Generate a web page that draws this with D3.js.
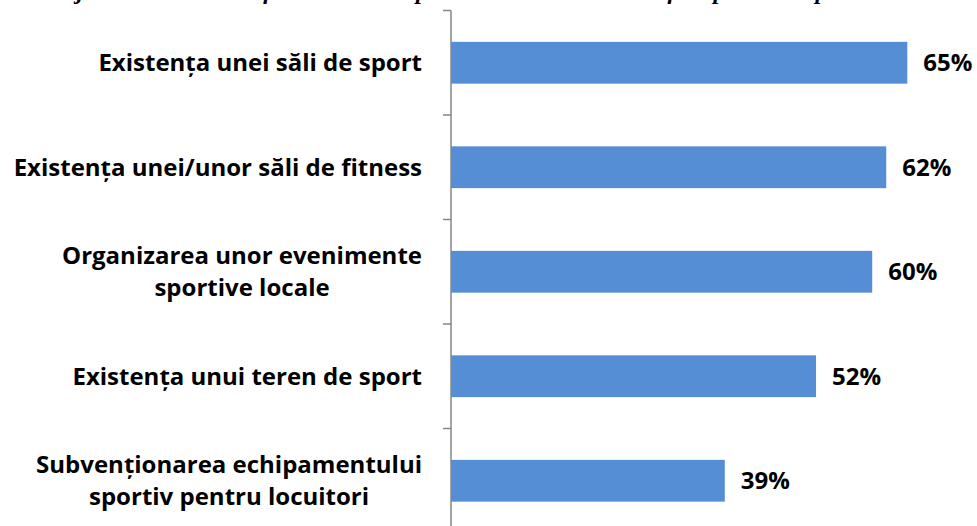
<!DOCTYPE html>
<html>
<head>
<meta charset="utf-8">
<script src="https://cdn.jsdelivr.net/npm/d3@7"></script>
<style>
  body { margin: 0; background: #fff; }
  svg { display: block; }
</style>
</head>
<body>
<div id="chart"></div>
<script>
// categories (top to bottom), each label split in lines
const categories = [
  ["Existența unei săli de sport"],
  ["Existența unei/unor săli de fitness"],
  ["Organizarea unor evenimente", "sportive locale"],
  ["Existența unui teren de sport"],
  ["Subvenționarea echipamentului", "sportiv pentru locuitori"]
];
const values = [65, 62, 60, 52, 39];
const valueLabels = ["65%", "62%", "60%", "52%", "39%"];
const titleText = "Ce anume v-ar ajuta ca oamenii să facă mai mult sport în comună? Care ar fi impactul asupra stării de sănătate, în special pentru tineri?";

const width = 977, height = 526;
const axisX = 451;
const barColor = "#558ed5";
const font = "'Open Sans', Lato, sans-serif";
const fontSize = 24;

const svg = d3.select("#chart").append("svg")
  .attr("width", width)
  .attr("height", height);

// title, mostly above the visible area
svg.append("text")
  .attr("x", -88)
  .attr("y", -1)
  .attr("font-family", "'Liberation Serif', serif")
  .attr("font-weight", "bold")
  .attr("font-style", "italic")
  .attr("font-size", 24)
  .text(titleText);

const x = d3.scaleLinear()
  .domain([0, 70])
  .range([axisX, axisX + 70 * 7.02]);

const y = d3.scaleBand()
  .domain(d3.range(categories.length))
  .range([10.5, 533])
  .paddingInner(0.6)
  .paddingOuter(0.3);

// bars
svg.append("g")
  .selectAll("rect")
  .data(values)
  .join("rect")
    .attr("x", x(0))
    .attr("y", (d, i) => y(i))
    .attr("width", d => x(d) - x(0))
    .attr("height", y.bandwidth())
    .attr("fill", barColor);

// axis line and ticks between categories
const axis = svg.append("g").attr("stroke", "#868686").attr("stroke-width", 1.5);
axis.append("line")
  .attr("x1", axisX).attr("x2", axisX)
  .attr("y1", y.range()[0]).attr("y2", y.range()[1]);
const tickYs = d3.range(categories.length + 1).map(i => y.range()[0] + i * y.step());
axis.selectAll(".tick")
  .data(tickYs)
  .join("line")
    .attr("x1", axisX - 8).attr("x2", axisX)
    .attr("y1", d => d).attr("y2", d => d);

// value labels
svg.append("g")
  .selectAll("text")
  .data(values)
  .join("text")
    .attr("x", d => x(d) + 16)
    .attr("y", (d, i) => y(i) + y.bandwidth() / 2)
    .attr("dy", "0.35em")
    .attr("font-family", font)
    .attr("font-weight", "bold")
    .attr("font-size", fontSize)
    .attr("fill", "#000")
    .text((d, i) => valueLabels[i]);

// category labels, centred block with right edge near the axis
const lineH = 32;
const labelRight = 422;
const cat = svg.append("g")
  .attr("font-family", font)
  .attr("font-weight", "bold")
  .attr("font-size", fontSize)
  .attr("fill", "#000");

categories.forEach((lines, i) => {
  const cy = y(i) + y.bandwidth() / 2;
  const t = cat.append("text").attr("text-anchor", "middle");
  lines.forEach((ln, j) => {
    t.append("tspan")
      .attr("y", cy + (j - (lines.length - 1) / 2) * lineH)
      .attr("dy", "0.35em")
      .text(ln);
  });
  let maxW = 0;
  t.selectAll("tspan").each(function () {
    maxW = Math.max(maxW, this.getComputedTextLength());
  });
  t.selectAll("tspan").attr("x", labelRight - maxW / 2);
});
</script>
</body>
</html>
